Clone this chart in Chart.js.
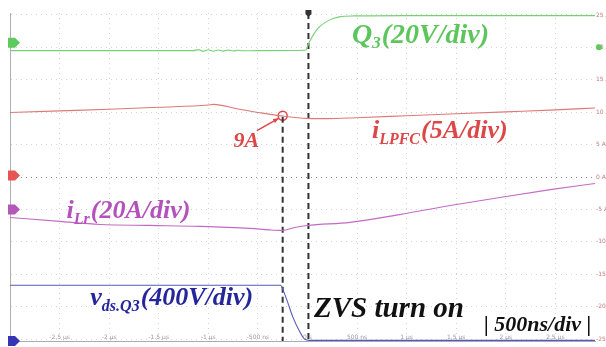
<!DOCTYPE html>
<html>
<head>
<meta charset="utf-8">
<script src="https://cdn.jsdelivr.net/npm/chart.js@4.4.0/dist/chart.umd.min.js"></script>
<style>
html, body { margin: 0; padding: 0; background: #fff; }
canvas { display: block; }
</style>
</head>
<body>
<canvas id="scope" width="606" height="347"></canvas>
<script>
// time axis in µs, vertical axis in screen amps (5 A/div on the right)
const timeTicks = [-2.5, -2, -1.5, -1, -0.5, 0, 0.5, 1, 1.5, 2, 2.5];
const timeTickLabels = ['-2.5 µs', '-2 µs', '-1.5 µs', '-1 µs', '-500 ns', '0 s', '500 ns', '1 µs', '1.5 µs', '2 µs', '2.5 µs'];
const levelTicks = [25, 20, 15, 10, 5, 0, -5, -10, -15, -20, -25];
const levelTickLabels = ['25 A', '20 A', '15 A', '10 A', '5 A', '0 A', '-5 A', '-10 A', '-15 A', '-20 A', '-25 A'];

// Q3 gate voltage
const gateTime = [-3.0, -1.15, -1.1, -1.05, -1.0, -0.95, -0.9, -0.85, -0.8, -0.75, -0.7, -0.65, -0.5, -0.02, 0.02, 0.07, 0.12, 0.22, 0.32, 0.47, 1.0, 2.9];
const gateLevel = [19.5, 19.5, 19.65, 19.38, 19.62, 19.4, 19.6, 19.42, 19.58, 19.44, 19.55, 19.47, 19.5, 19.55, 20.85, 22.2, 23.15, 24.2, 24.7, 24.85, 24.9, 24.9];

// iLPFC
const pfcTime = [-3.0, -2.5, -2.0, -1.5, -1.0, -0.95, -0.7, -0.45, -0.25, -0.1, 0.0, 0.2, 0.5, 1.0, 1.5, 2.0, 2.5, 2.9];
const pfcLevel = [9.95, 10.2, 10.45, 10.75, 11.1, 11.2, 10.5, 9.85, 9.4, 9.15, 9.05, 9.0, 9.15, 9.45, 9.75, 10.05, 10.35, 10.65];

// iLr
const lrTime = [-3.0, -2.5, -2.09, -1.59, -1.08, -0.58, -0.38, -0.25, -0.13, 0.0, 0.43, 0.93, 1.44, 1.94, 2.45, 2.9];
const lrLevel = [-6.24, -6.85, -7.32, -7.47, -7.62, -7.93, -8.16, -8.24, -7.8, -7.47, -7.0, -5.8, -4.4, -3.15, -1.95, -1.0];

// vds of Q3
const vdsTime = [-3.0, -0.27, -0.25, -0.2, -0.15, -0.08, -0.03, 0.02, 2.9];
const vdsLevel = [-16.7, -16.7, -17.3, -19.3, -21.5, -23.8, -25.0, -25.2, -25.2];

// cursors
const cursorTimes = [-0.25, 0.01];
const cursorTops = [9.3, 25.3];
const pointNineA = { t: -0.25, v: 9.45 };

// channel reference markers on the left edge
const markerLevels = [20.7, 0.25, -5.0, -25.3];
const markerColors = ['#5ec95e', '#e65454', '#b458b8', '#3434b4'];

const GREEN = '#74d274', GREEN_TXT = '#5cc65c';
const RED = '#e07878', RED_TXT = '#dc4848';
const MAG = '#c46ac4', MAG_TXT = '#b452bc';
const BLUE = '#5858bc', BLUE_TXT = '#26269c';

const zip = (xs, ys) => xs.map((x, i) => ({ x: x, y: ys[i] }));

const labels = [
    { t: 0.449, v: 20.7, color: GREEN_TXT, size: 28, parts: [{ s: 'Q' }, { s: '3', sub: true }, { s: '(20V/div)' }] },
    { t: 0.65, v: 5.95, color: RED_TXT, size: 26, parts: [{ s: 'i' }, { s: 'LPFC', sub: true }, { s: '(5A/div)' }] },
    { t: -0.745, v: 4.7, color: RED_TXT, size: 22, parts: [{ s: '9A' }] },
    { t: -2.43, v: -6.4, color: MAG_TXT, size: 26, parts: [{ s: 'i' }, { s: 'Lr', sub: true }, { s: '(20A/div)' }] },
    { t: -2.19, v: -19.8, color: BLUE_TXT, size: 26, parts: [{ s: 'v' }, { s: 'ds.Q3', sub: true }, { s: '(400V/div)' }] },
    { t: 0.066, v: -21.6, color: '#111', size: 29, parts: [{ s: 'ZVS turn on' }] },
    { t: 1.78, v: -23.8, color: '#111', size: 22, parts: [{ s: '| 500ns/div |' }] }
];

function drawRich(ctx, x, y, parts, color, size) {
    ctx.fillStyle = color;
    ctx.textBaseline = 'alphabetic';
    ctx.textAlign = 'left';
    parts.forEach(p => {
        const fs = p.sub ? Math.round(size * 0.62) : size;
        ctx.font = `italic bold ${fs}px "Liberation Serif", serif`;
        ctx.fillText(p.s, x, y + (p.sub ? size * 0.2 : 0));
        x += ctx.measureText(p.s).width + (p.sub ? 1 : 0);
    });
}

const scopeDecor = {
    id: 'scopeDecor',
    afterDatasetsDraw(chart) {
        const { ctx, chartArea, scales: { x, y } } = chart;
        ctx.save();

        // tick labels drawn inside the screen
        ctx.font = '6px "DejaVu Sans"';
        ctx.fillStyle = '#9a9a9a';
        ctx.textAlign = 'center';
        ctx.textBaseline = 'alphabetic';
        timeTicks.forEach((t, i) => {
            ctx.fillText(timeTickLabels[i], x.getPixelForValue(t), chartArea.bottom - 2);
        });
        ctx.fillStyle = '#c07c7c';
        ctx.textAlign = 'left';
        ctx.textBaseline = 'middle';
        levelTicks.forEach((v, i) => {
            ctx.fillText(levelTickLabels[i], chartArea.right + 1, y.getPixelForValue(v));
        });

        // left reference markers
        markerLevels.forEach((v, i) => {
            const py = y.getPixelForValue(v);
            const lx = chartArea.left - 2;
            ctx.fillStyle = markerColors[i];
            ctx.beginPath();
            ctx.moveTo(lx, py - 5);
            ctx.lineTo(lx + 7, py - 5);
            ctx.lineTo(lx + 12, py);
            ctx.lineTo(lx + 7, py + 5);
            ctx.lineTo(lx, py + 5);
            ctx.closePath();
            ctx.fill();
        });

        // green marker at right edge
        ctx.fillStyle = '#5ec95e';
        ctx.beginPath();
        ctx.arc(chartArea.right + 4, y.getPixelForValue(20), 3, 0, Math.PI * 2);
        ctx.fill();

        // trigger marker on top
        const tx = x.getPixelForValue(cursorTimes[1]);
        ctx.fillStyle = '#333';
        ctx.beginPath();
        ctx.moveTo(tx - 3, chartArea.top - 3);
        ctx.lineTo(tx + 3, chartArea.top - 3);
        ctx.lineTo(tx + 3, chartArea.top + 1);
        ctx.lineTo(tx, chartArea.top + 4);
        ctx.lineTo(tx - 3, chartArea.top + 1);
        ctx.closePath();
        ctx.fill();

        // arrow to the 9A point
        const ax0 = x.getPixelForValue(-0.51), ay0 = y.getPixelForValue(7.15);
        const ax1 = x.getPixelForValue(-0.29), ay1 = y.getPixelForValue(9.05);
        ctx.strokeStyle = RED_TXT;
        ctx.fillStyle = RED_TXT;
        ctx.lineWidth = 1.5;
        ctx.beginPath();
        ctx.moveTo(ax0, ay0);
        ctx.lineTo(ax1, ay1);
        ctx.stroke();
        const ang = Math.atan2(ay1 - ay0, ax1 - ax0);
        ctx.beginPath();
        ctx.moveTo(ax1, ay1);
        ctx.lineTo(ax1 - 6 * Math.cos(ang - 0.4), ay1 - 6 * Math.sin(ang - 0.4));
        ctx.lineTo(ax1 - 6 * Math.cos(ang + 0.4), ay1 - 6 * Math.sin(ang + 0.4));
        ctx.closePath();
        ctx.fill();

        labels.forEach(l => {
            drawRich(ctx, x.getPixelForValue(l.t), y.getPixelForValue(l.v), l.parts, l.color, l.size);
        });
        ctx.restore();
    }
};

const trace = (data, color) => ({
    data: data,
    borderColor: color,
    borderWidth: 1.1,
    pointRadius: 0,
    cubicInterpolationMode: 'monotone',
    fill: false
});

const cursor = i => ({
    data: [{ x: cursorTimes[i], y: cursorTops[i] }, { x: cursorTimes[i], y: -25.3 }],
    borderColor: '#333',
    borderWidth: 2,
    borderDash: [6, 4],
    pointRadius: 0,
    fill: false
});

new Chart(document.getElementById('scope').getContext('2d'), {
    type: 'line',
    data: {
        datasets: [
            trace(zip(gateTime, gateLevel), GREEN),
            trace(zip(pfcTime, pfcLevel), RED),
            trace(zip(lrTime, lrLevel), MAG),
            trace(zip(vdsTime, vdsLevel), BLUE),
            cursor(0),
            cursor(1),
            {
                data: [{ x: pointNineA.t, y: pointNineA.v }],
                pointRadius: 4.5,
                pointBorderWidth: 1.5,
                pointBorderColor: RED_TXT,
                pointBackgroundColor: 'rgba(0,0,0,0)',
                showLine: false
            }
        ]
    },
    options: {
        responsive: false,
        animation: false,
        devicePixelRatio: 1,
        layout: { padding: { left: 10, right: 11, top: 13, bottom: 5 } },
        plugins: { legend: { display: false }, tooltip: { enabled: false } },
        scales: {
            x: {
                type: 'linear',
                min: -3,
                max: 2.9,
                afterBuildTicks: s => { s.ticks = timeTicks.map(v => ({ value: v })); },
                ticks: { display: false },
                grid: { color: '#d4d4d4', drawTicks: false },
                border: { display: true, color: '#a8a8b8', dash: [1, 4] }
            },
            y: {
                min: -25.3,
                max: 25.3,
                afterBuildTicks: s => { s.ticks = levelTicks.map(v => ({ value: v })); },
                ticks: { display: false },
                grid: {
                    color: c => c.tick && c.tick.value === 0 ? '#8a8a8a' : '#d4d4d4',
                    drawTicks: false
                },
                border: { display: true, color: '#b0b0b0', dash: [1, 4] }
            }
        }
    },
    plugins: [scopeDecor]
});
</script>
</body>
</html>
